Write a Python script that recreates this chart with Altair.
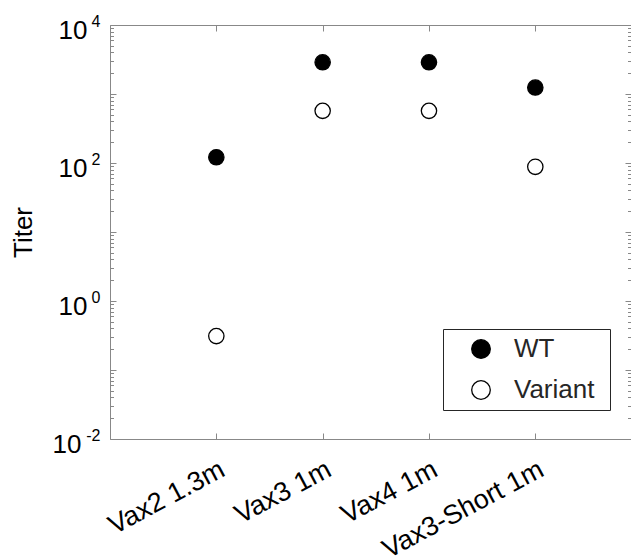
import json
import altair as alt
import pandas as pd

# ---- data ----
categories = ["Vax2 1.3m", "Vax3 1m", "Vax4 1m", "Vax3-Short 1m"]
wt_titer = [121, 2880, 2880, 1240]
variant_titer = [0.31, 570, 570, 88]
series_names = ["WT", "Variant"]
series_fill = ["black", "white"]

cat_positions = [1, 2, 3, 4]
y_label_values = [0.01, 1, 100, 10000]
y_exponents = ["-2", "0", "2", "4"]
y_major = [0.01, 0.1, 1, 10, 100, 1000, 10000]
y_minor = [k * m for m in [0.01, 0.1, 1, 10, 100, 1000] for k in range(2, 10)]

rows = []
for i, (c, w, v) in enumerate(zip(categories, wt_titer, variant_titer)):
    rows.append({"pos": cat_positions[i], "vaccine": c, "series": "WT", "titer": w})
    rows.append({"pos": cat_positions[i], "vaccine": c, "series": "Variant", "titer": v})
df = pd.DataFrame(rows)

INK = "#262626"
FONT = "Liberation Sans"
FS = 26

xscale = alt.Scale(domain=[0, 4.9], nice=False, zero=False)
yscale = alt.Scale(type="log", domain=[0.01, 10000], nice=False)

x_label_expr = json.dumps(categories) + "[round(datum.value) - 1]"
exp_label_expr = json.dumps(y_exponents) + "[round((log(datum.value)/LN10 + 2)/2)]"


def X(axis):
    return alt.X("pos:Q", scale=xscale, axis=axis, title=None)


def Y(axis):
    return alt.Y("titer:Q", scale=yscale, axis=axis, title=None)


def ticks_axis(orient, size, values):
    return alt.Axis(orient=orient, domain=False, labels=False, ticks=True, grid=False,
                    tickSize=size, offset=-size, values=values, title=None)


ghost = alt.Chart(df).mark_point(opacity=0)

main = alt.Chart(df).mark_point(
    shape="circle", filled=True, size=235, stroke="black", strokeWidth=1.3, opacity=1
).encode(
    x=X(alt.Axis(orient="bottom", domain=True, ticks=False, tickSize=0, grid=False,
                 labels=True, values=cat_positions, labelExpr=x_label_expr,
                 labelOverlap=False, labelFlush=False, labelAngle=-28,
                 labelAlign="right", labelBaseline="top", labelPadding=17,
                 labelOffset=0, labelFontSize=27, title=None)),
    y=alt.Y("titer:Q", scale=yscale, title="Titer",
            axis=alt.Axis(orient="left", domain=True, ticks=False, tickSize=0,
                          grid=False, values=y_label_values, labelExpr="'10'",
                          labelOverlap=False, labelFontSize=FS,
                          labelPadding={"condition": {"test": "datum.value < 0.1", "value": 29},
                                        "value": 23},
                          labelOffset=5, labelAlign="right", labelBaseline="middle",
                          titleFontSize=FS, titleFontWeight="normal",
                          titleX=-87, titleY=207, titleAngle=270,
                          titleAlign="center", titleBaseline="middle")),
    fill=alt.Fill("series:N",
                  scale=alt.Scale(domain=series_names, range=series_fill),
                  legend=alt.Legend(
                      title="\u2800", titleOrient="right", titleFontSize=12,
                      titlePadding=0, titleColor="white",
                      orient="none", legendX=333, legendY=304,
                      direction="vertical", strokeColor=INK, fillColor="white",
                      padding=7, rowPadding=15, symbolType="circle",
                      symbolSize=346, symbolStrokeColor="black",
                      symbolStrokeWidth=1.3, symbolOffset=18,
                      labelOffset=20, labelFontSize=FS, labelFont=FONT,
                      labelColor=INK)),
)

l2 = ghost.encode(
    x=X(alt.Axis(orient="top", domain=True, ticks=False, labels=False, grid=False,
                 title=None)),
    y=Y(alt.Axis(orient="left", domain=False, ticks=False, tickSize=0, grid=False,
                 values=y_label_values, labelExpr=exp_label_expr, labelFontSize=16,
                 labelOverlap=False, labelPadding=10, labelOffset=-4,
                 labelAlign="right", labelBaseline="middle", title=None)),
)
l3 = ghost.encode(x=X(ticks_axis("bottom", 6, cat_positions)),
                  y=Y(ticks_axis("left", 6, y_major)))
l4 = ghost.encode(x=X(ticks_axis("top", 6, cat_positions)),
                  y=Y(ticks_axis("left", 3.5, y_minor)))
l5 = ghost.encode(x=X(None), y=Y(ticks_axis("right", 6, y_major)))
l6 = ghost.encode(x=X(None), y=Y(ticks_axis("right", 3.5, y_minor)))

chart = (
    alt.layer(l2, l3, l4, l5, l6, main)
    .resolve_axis(x="independent", y="independent")
    .properties(
        width=521, height=414,
        autosize=alt.AutoSizeParams(type="none"),
        padding={"left": 102, "top": 17, "right": 0, "bottom": 120},
    )
    .configure_view(stroke=None)
    .configure_axis(grid=False, domainColor=INK, tickColor=INK, labelColor=INK,
                    titleColor=INK, labelFont=FONT, titleFont=FONT,
                    domainWidth=1, tickWidth=1)
    .configure(font=FONT)
)

chart.save("out.html", embed_options={"renderer": "svg", "actions": False})
